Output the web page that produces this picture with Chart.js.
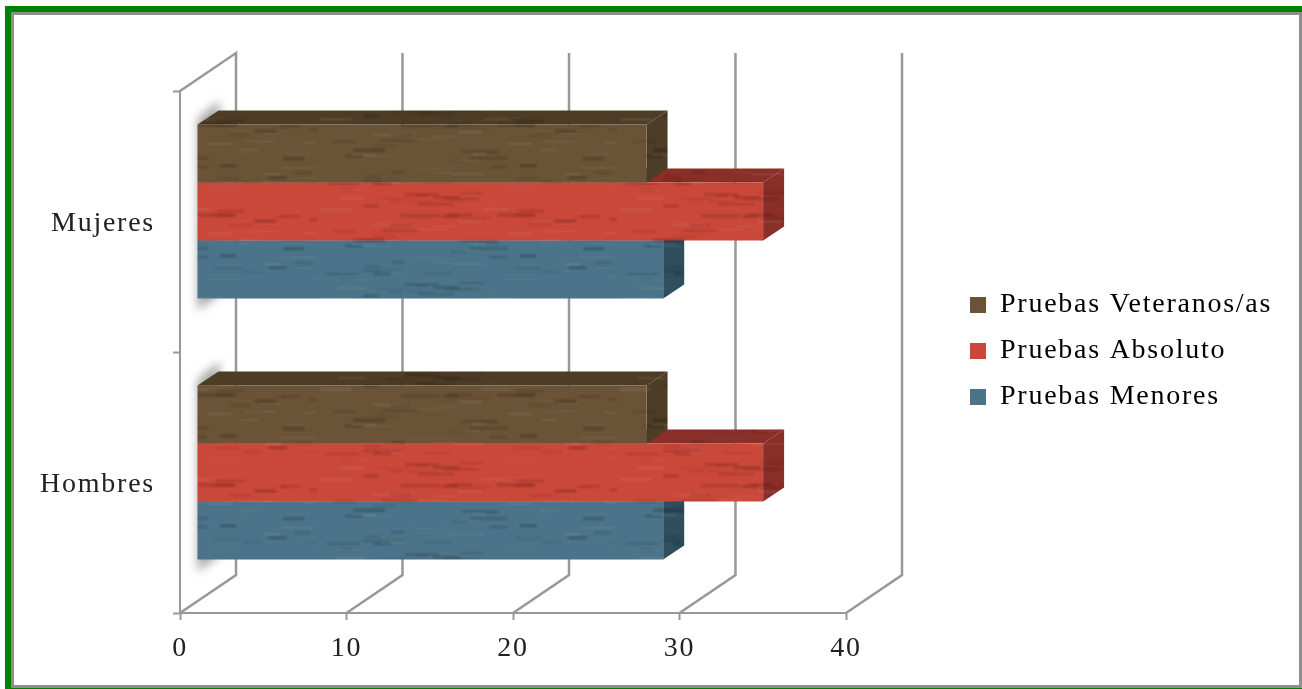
<!DOCTYPE html>
<html>
<head>
<meta charset="utf-8">
<title>Pruebas</title>
<script src="https://cdn.jsdelivr.net/npm/chart.js@4"></script>
<style>
    html, body { margin: 0; padding: 0; background: #fff; overflow: hidden; }
    #frame {
        position: absolute; left: 5px; top: 6px; right: 0; bottom: 0;
        border: solid #008000; border-width: 6px 0 1px 6px;
    }
    #frame div { position: absolute; inset: 0; border: 3px solid #8f8f8f; }
    #chart { position: absolute; left: 0; top: 0; }
</style>
</head>
<body>
<div id="frame"><div></div></div>
<canvas id="chart" width="1302" height="689"></canvas>
<script>
// datos
const categories = ['Mujeres', 'Hombres'];
const seriesNames = ['Pruebas Veteranos/as', 'Pruebas Absoluto', 'Pruebas Menores'];
const veteranos = [27, 27];
const absoluto = [34, 34];
const menores = [28, 28];

const frontColors = ['#6b5337', '#c9483a', '#4b7389'];
const faceColors = ['#4d3c26', '#8a2f27', '#2f4f5f'];
const FONT = 'Liberation Serif';
const FONT_SIZE = 28;
const TEXT_SPACING = '1.75px';

// desplazamiento de las barras y profundidad del 3D
const BAR_SHIFT = { x: 17, y: -10 };
const BAR_DEPTH = { x: 21, y: -14 };
const WALL_DEPTH = { x: 56, y: -38 };
const WALL_COLOR = '#989898';

// textura tipo madera (solo decorativa, vetas horizontales)
function grain(color) {
    const c = document.createElement('canvas');
    c.width = 300;
    c.height = 90;
    const g = c.getContext('2d');
    g.fillStyle = color;
    g.fillRect(0, 0, c.width, c.height);
    g.filter = 'blur(0.8px)';
    let seed = 17;
    const next = () => (seed = (seed * 137 + 71) % 1009) / 1009;
    for (let i = 0; i < 320; i++) {
        const dark = next() > 0.45;
        g.fillStyle = dark ? 'rgba(0,0,0,' + (0.02 + next() * 0.06) + ')' : 'rgba(255,255,255,' + (0.015 + next() * 0.02) + ')';
        g.fillRect(next() * c.width, next() * c.height, 10 + next() * 30, 1 + Math.round(next()));
    }
    return g.createPattern(c, 'repeat');
}

const frontPatterns = frontColors.map(grain);
const facePatterns = faceColors.map(grain);

function fillPoly(ctx, pts) {
    ctx.beginPath();
    pts.forEach((p, i) => i ? ctx.lineTo(p[0], p[1]) : ctx.moveTo(p[0], p[1]));
    ctx.closePath();
    ctx.fill();
}

const fake3d = {
    id: 'fake3d',
    beforeLayout(chart) {
        chart.ctx.letterSpacing = TEXT_SPACING;
    },
    afterLayout(chart) {
        // leyenda fuera de su sitio por defecto
        chart.legend.left = 952;
        chart.legend.right = 1302;
        chart.legend.top = 13;
        chart.legend.bottom = 689;
    },
    beforeDatasetsDraw(chart) {
        const { ctx, scales: { x }, chartArea: area } = chart;
        // paredes del fondo
        ctx.save();
        ctx.strokeStyle = WALL_COLOR;
        ctx.lineWidth = 2.5;
        x.ticks.forEach((t, i) => {
            const px = x.getPixelForTick(i);
            ctx.beginPath();
            ctx.moveTo(px, area.bottom);
            ctx.lineTo(px + WALL_DEPTH.x, area.bottom + WALL_DEPTH.y);
            ctx.lineTo(px + WALL_DEPTH.x, area.top + WALL_DEPTH.y);
            if (i === 0) ctx.lineTo(px, area.top);
            ctx.stroke();
        });
        // sombra a la izquierda de cada grupo
        const top = chart.getDatasetMeta(0).data;
        const bottom = chart.getDatasetMeta(2).data;
        ctx.filter = 'blur(5px)';
        ctx.fillStyle = '#a8a8a8';
        top.forEach((bar, i) => {
            const x0 = bar.base + BAR_SHIFT.x;
            const y0 = bar.y - bar.height / 2 + BAR_SHIFT.y;
            const y1 = bottom[i].y + bottom[i].height / 2 + BAR_SHIFT.y;
            fillPoly(ctx, [[x0, y0 - 6], [x0 + 22, y0 - 24], [x0 + 22, y1 - 4], [x0, y1 + 12]]);
        });
        ctx.restore();
    },
    beforeDatasetDraw(chart, args) {
        const { ctx } = chart;
        ctx.save();
        ctx.translate(BAR_SHIFT.x, BAR_SHIFT.y);
        args.meta.data.forEach(bar => {
            const r = bar.x;
            const l = bar.base;
            const t = bar.y - bar.height / 2;
            const b = bar.y + bar.height / 2;
            ctx.fillStyle = facePatterns[args.index];
            fillPoly(ctx, [[l, t], [l + BAR_DEPTH.x, t + BAR_DEPTH.y], [r + BAR_DEPTH.x, t + BAR_DEPTH.y], [r, t]]);
            fillPoly(ctx, [[r, t], [r + BAR_DEPTH.x, t + BAR_DEPTH.y], [r + BAR_DEPTH.x, b + BAR_DEPTH.y], [r, b]]);
        });
    },
    afterDatasetDraw(chart) {
        chart.ctx.restore();
    }
};

new Chart(document.getElementById('chart'), {
    type: 'bar',
    plugins: [fake3d],
    data: {
        labels: categories,
        datasets: [veteranos, absoluto, menores].map((values, i) => ({
            label: seriesNames[i],
            data: values,
            backgroundColor: frontPatterns[i],
            borderWidth: 0,
            categoryPercentage: 2 / 3,
            barPercentage: 1
        }))
    },
    options: {
        indexAxis: 'y',
        responsive: false,
        animation: false,
        layout: { padding: { left: 0, right: 174, top: 91, bottom: 0 } },
        scales: {
            x: {
                min: 0,
                max: 40,
                ticks: { stepSize: 10, padding: 12, color: '#222', maxRotation: 0, font: { family: FONT, size: FONT_SIZE } },
                grid: { drawOnChartArea: false, tickLength: 7, tickColor: WALL_COLOR, tickWidth: 2 },
                border: { color: WALL_COLOR, width: 2 },
                afterFit(s) { s.height = 76; }
            },
            y: {
                ticks: { padding: 18, labelOffset: 2, color: '#222', font: { family: FONT, size: FONT_SIZE } },
                grid: { drawOnChartArea: false, offset: true, tickLength: 7, tickColor: WALL_COLOR, tickWidth: 2 },
                border: { color: WALL_COLOR, width: 2 },
                afterFit(s) { s.width = 180; }
            }
        },
        plugins: {
            title: { display: false },
            tooltip: { enabled: false },
            legend: {
                position: 'right',
                labels: {
                    boxWidth: 16,
                    boxHeight: 16,
                    padding: 18,
                    color: '#222',
                    font: { family: FONT, size: FONT_SIZE },
                    generateLabels: () => seriesNames.map((name, i) => ({
                        text: name,
                        fillStyle: frontColors[i],
                        strokeStyle: frontColors[i],
                        lineWidth: 0,
                        datasetIndex: i
                    }))
                }
            }
        }
    }
});
</script>
</body>
</html>
